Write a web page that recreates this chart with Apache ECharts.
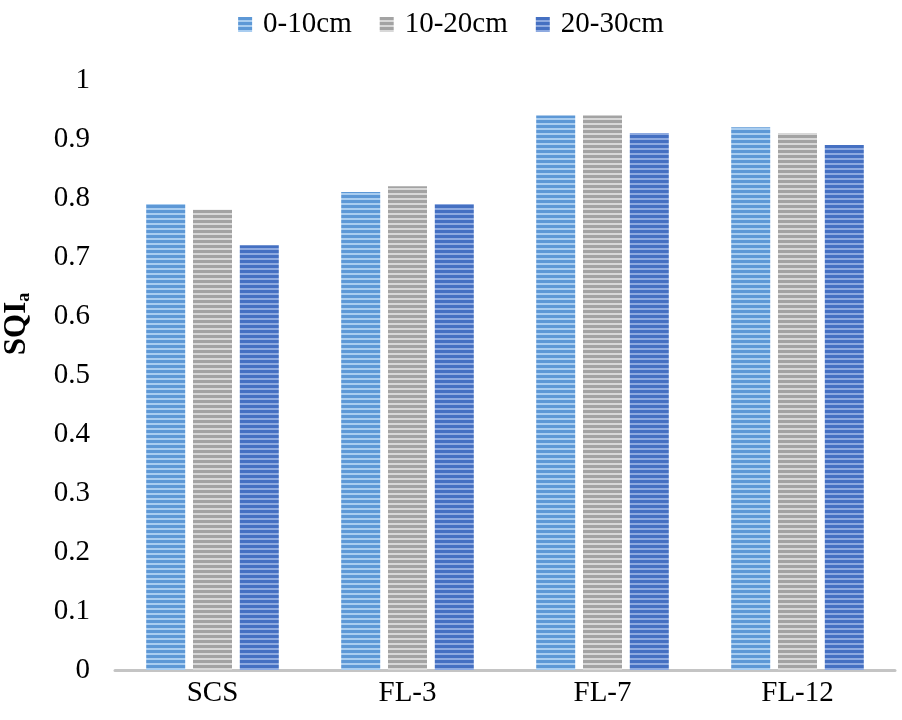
<!DOCTYPE html>
<html>
<head>
<meta charset="utf-8" />
<title>SQIa</title>
<script src="https://cdn.jsdelivr.net/npm/echarts@6/dist/echarts.min.js"></script>
<style>
  html, body { margin: 0; padding: 0; background: #fff; }
  #main { width: 902px; height: 720px; }
</style>
</head>
<body>
<div id="main"></div>
<script>
// data
var categories = ['SCS', 'FL-3', 'FL-7', 'FL-12'];
var depth0_10 = [0.79, 0.81, 0.94, 0.92];
var depth10_20 = [0.78, 0.82, 0.94, 0.91];
var depth20_30 = [0.72, 0.79, 0.91, 0.89];
var yTicks = [0, 0.1, 0.2, 0.3, 0.4, 0.5, 0.6, 0.7, 0.8, 0.9, 1];

// striped fill like the excel texture
function stripes(dark, light) {
  var c = document.createElement('canvas');
  c.width = 4; c.height = 5;
  var ctx = c.getContext('2d');
  ctx.fillStyle = dark;
  ctx.fillRect(0, 0, 4, 5);
  ctx.fillStyle = light;
  ctx.fillRect(0, 3, 4, 2);
  return { image: c, repeat: 'repeat' };
}

var font = '"Liberation Serif", "Times New Roman", serif';
var chart = echarts.init(document.getElementById('main'));

var fills = [
  stripes('#5d98d6', '#a9cdf0'),
  stripes('#a3a3a3', '#d8d8d8'),
  stripes('#4570c2', '#8eaae0')
];

function bar(name, data, fill) {
  return {
    name: name,
    type: 'bar',
    data: data,
    barGap: '20%',
    barCategoryGap: '32%',
    itemStyle: { color: fill }
  };
}

chart.setOption({
  animation: false,
  textStyle: { fontFamily: font },
  legend: {
    top: 5,
    left: 'center',
    icon: 'rect',
    itemWidth: 14,
    itemHeight: 15,
    itemGap: 28,
    textStyle: { fontSize: 29, color: '#000', fontFamily: font, padding: [0, 0, 0, 6] },
    data: ['0-10cm', '10-20cm', '20-30cm']
  },
  grid: { left: 115, right: 7, top: 80, bottom: 50, containLabel: false, outerBoundsMode: 'none' },
  xAxis: {
    type: 'category',
    data: categories,
    axisLine: { lineStyle: { color: '#c4c4c4', width: 3 } },
    axisTick: { show: false },
    axisLabel: { fontSize: 29, color: '#000', margin: 9, fontFamily: font }
  },
  yAxis: {
    type: 'value',
    min: yTicks[0],
    max: yTicks[yTicks.length - 1],
    interval: 0.1,
    splitLine: { show: false },
    axisLine: { show: false },
    axisTick: { show: false },
    axisLabel: { fontSize: 29, color: '#000', margin: 25, fontFamily: font },
    name: '{b|SQI}{s|a}',
    nameLocation: 'middle',
    nameRotate: 90,
    nameGap: 82,
    nameTextStyle: {
      padding: [0, 0, 0, 102],
      rich: {
        b: { fontSize: 31, fontWeight: 'bold', color: '#000', fontFamily: font },
        s: { fontSize: 18, fontWeight: 'bold', color: '#000', fontFamily: font, padding: [14, 0, 0, 0] }
      }
    }
  },
  series: [
    bar('0-10cm', depth0_10, fills[0]),
    bar('10-20cm', depth10_20, fills[1]),
    bar('20-30cm', depth20_30, fills[2])
  ]
});

window.onresize = function() { chart.resize(); };
</script>
</body>
</html>
